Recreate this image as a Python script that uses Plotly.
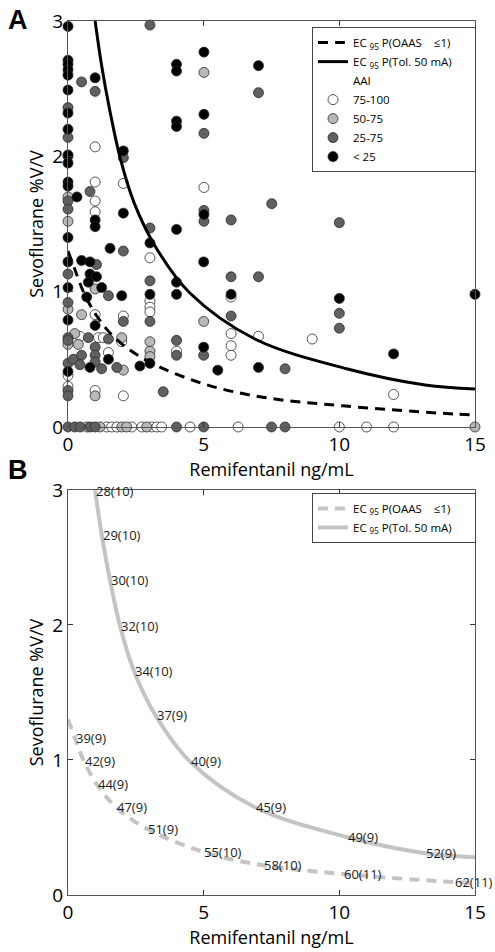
import plotly.graph_objects as go

# ---------------- data ----------------
# Panel A scatter points (Remifentanil ng/mL, Sevoflurane %V/V), grouped by AAI class
aai_75_100_x = [0, 0, 1.0, 1.0, 1.0, 1.0, 2.04, 1.0, 2.04, 0.44, 1.12, 1.3, 1.98, 1.49, 2.04, 1.0,
                3.02, 3.02, 3.02, 3.02, 5.01, 6.01, 6.01, 6.01, 6.01, 7.02, 9.0, 4.0, 12.0,
                1.43, 1.61, 1.8, 2.35, 2.72, 3.08, 3.27, 3.45, 4.5, 6.27, 10.0, 11.0, 12.0]
aai_75_100_y = [0.38, 0.30, 2.07, 1.81, 1.67, 1.59, 1.80, 0.83, 0.82, 0.67, 0.66, 0.66, 0.63, 0.55, 0.23, 0.27,
                1.25, 0.93, 0.885, 0.85, 1.77, 0.96, 0.69, 0.60, 0.53, 0.67, 0.65, 0.56, 0.24,
                0, 0, 0, 0, 0, 0, 0, 0, 0, 0, 0, 0, 0]

aai_50_75_x = [0, 0, 0, 0, 5.01, 1.0, 0.5, 0.25, 1.98, 0.38, 3.02, 3.02, 3.02, 2.04, 1.0, 5.0,
               0.7, 1.18, 1.98, 2.16, 2.9, 15.0]
aai_50_75_y = [1.70, 1.52, 0.87, 0.61, 2.62, 1.02, 0.83, 0.69, 0.66, 0.61, 0.63, 0.56, 0.52, 0.42, 0.23, 0.78,
               0, 0, 0, 0, 0, 0]

aai_25_75_x = [0, 0, 0, 0, 0, 0, 0, 0, 0, 0, 0, 0,
               0.5, 1.0, 0.81, 2.04, 3.02, 7.02, 5.01, 7.51, 5.01, 5.01, 6.01, 10.0, 3.02,
               2.04, 1.05, 1.49, 3.02, 6.01, 7.02, 2.04, 0.75, 1.49, 1.0, 0.2, 0.5, 1.0, 0.44, 1.0,
               3.02, 1.24, 1.8, 6.01, 10.0, 10.0, 4.0, 4.0, 5.0, 8.0, 3.51,
               0, 0.25, 0.45, 0.82, 1.0, 4.0, 5.0, 7.5, 8.0]
aai_25_75_y = [2.36, 2.14, 2.0, 1.67, 1.61, 1.13, 0.92, 0.66, 0.64, 0.47, 0.27, 0.23,
               2.55, 2.48, 1.74, 1.99, 2.97, 2.47, 2.17, 1.65, 1.60, 1.52, 1.53, 1.51, 1.47,
               1.30, 1.20, 0.97, 1.08, 1.11, 1.11, 0.78, 0.66, 0.65, 0.59, 0.50, 0.53, 0.53, 0.46, 0.48,
               0.78, 0.43, 0.44, 0.82, 0.84, 0.73, 0.64, 0.53, 0.53, 0.43, 0.26,
               0, 0, 0, 0, 0, 0, 0, 0, 0]

aai_lt25_x = [0, 0, 0, 0, 0, 0, 0, 0, 0, 0, 0, 0, 0, 0, 0, 0, 0,
              1.0, 4.0, 4.0, 5.01, 7.02, 4.0, 4.0, 5.01, 2.04, 0.33, 2.04, 1.0, 1.0, 5.01, 4.0,
              1.55, 3.02, 0.5, 0.81, 0.81, 1.05, 0.75, 1.24, 1.98, 0.69, 5.0, 4.0, 4.0, 3.02,
              6.01, 10.0, 1.0, 1.49, 0.81, 2.65, 3.02, 5.0, 5.52, 7.02, 15.0, 12.0]
aai_lt25_y = [2.96, 2.71, 2.68, 2.64, 2.60, 2.49, 2.32, 2.20, 2.01, 1.95, 1.81, 1.78, 1.40, 1.22, 1.03, 0.79, 0.41,
              2.58, 2.68, 2.63, 2.77, 2.67, 2.26, 2.22, 2.31, 2.04, 1.70, 1.58, 1.53, 1.48, 1.57, 1.46,
              1.32, 1.36, 1.23, 1.22, 1.13, 1.11, 1.07, 1.03, 0.97, 0.96, 1.22, 1.07, 0.98, 0.98,
              0.98, 0.95, 0.75, 0.50, 0.44, 0.45, 0.47, 0.59, 0.42, 0.44, 0.98, 0.54]

# EC95 curves
tol_x = [1.0, 1.24, 1.55, 1.92, 2.43, 3.23, 4.49, 6.89, 10.27, 13.16, 15.0]
tol_y = [3.0, 2.67, 2.33, 1.99, 1.66, 1.33, 0.99, 0.65, 0.43, 0.31, 0.28]
oaas_x = [0.0, 0.26, 0.59, 1.06, 1.77, 2.91, 4.98, 7.18, 10.13, 14.23, 15.0]
oaas_y = [1.30, 1.16, 0.99, 0.82, 0.65, 0.49, 0.32, 0.22, 0.156, 0.096, 0.09]

# Panel B labels, placed on the curves
tol_labels = ["28(10)", "29(10)", "30(10)", "32(10)", "34(10)", "37(9)", "40(9)", "45(9)", "49(9)", "52(9)"]
tol_lab_x = [1.0, 1.24, 1.55, 1.92, 2.43, 3.23, 4.49, 6.89, 10.27, 13.16]
tol_lab_y = [2.99, 2.67, 2.33, 1.99, 1.66, 1.33, 0.99, 0.65, 0.43, 0.31]
oaas_labels = ["39(9)", "42(9)", "44(9)", "47(9)", "51(9)", "55(10)", "58(10)", "60(11)", "62(11)"]
oaas_lab_x = [0.26, 0.59, 1.06, 1.77, 2.91, 4.98, 7.18, 10.13, 14.23]
oaas_lab_y = [1.16, 0.99, 0.82, 0.65, 0.49, 0.32, 0.22, 0.156, 0.096]

x_ticks = [0, 5, 10, 15]
y_ticks = [0, 1, 2, 3]

# ---------------- figure ----------------
FONT = "Open Sans"
fig = go.Figure()

groups = [
    ("75-100", aai_75_100_x, aai_75_100_y, "#ffffff"),
    ("50-75", aai_50_75_x, aai_50_75_y, "#b9b9b9"),
    ("25-75", aai_25_75_x, aai_25_75_y, "#606060"),
    ("< 25", aai_lt25_x, aai_lt25_y, "#000000"),
]

name_oaas = "EC <sub>95</sub> P(OAAS&nbsp;&nbsp;&nbsp;&nbsp;≤1)"
name_tol = "EC <sub>95</sub> P(Tol. 50 mA)&nbsp;&nbsp;&nbsp;&nbsp;&nbsp;&nbsp;"

# header entry "AAI"
fig.add_trace(go.Scatter(x=[None], y=[None], mode="markers", name="AAI",
                         marker=dict(size=1, color="rgba(0,0,0,0)"),
                         legend="legend", legendrank=3, xaxis="x", yaxis="y"))
for i, (nm, xs, ys, col) in enumerate(groups):
    fig.add_trace(go.Scatter(x=xs, y=ys, mode="markers", name=nm, cliponaxis=False,
                             marker=dict(size=10, color=col, line=dict(color="#2a2a2a", width=0.8)),
                             legend="legend", legendrank=4 + i, xaxis="x", yaxis="y"))

fig.add_trace(go.Scatter(x=oaas_x, y=oaas_y, mode="lines", name=name_oaas, line_shape="spline",
                         line=dict(color="black", width=3, dash="10px,7px"),
                         legend="legend", legendrank=1, xaxis="x", yaxis="y"))
fig.add_trace(go.Scatter(x=tol_x, y=tol_y, mode="lines", name=name_tol, line_shape="spline",
                         line=dict(color="black", width=3),
                         legend="legend", legendrank=2, xaxis="x", yaxis="y"))

# Panel B
fig.add_trace(go.Scatter(x=oaas_x, y=oaas_y, mode="lines", name=name_oaas, line_shape="spline",
                         line=dict(color="#c4c4c4", width=4, dash="10px,7px"),
                         legend="legend2", legendrank=1, xaxis="x2", yaxis="y2"))
fig.add_trace(go.Scatter(x=tol_x, y=tol_y, mode="lines", name=name_tol, line_shape="spline",
                         line=dict(color="#c4c4c4", width=4),
                         legend="legend2", legendrank=2, xaxis="x2", yaxis="y2"))

annotations = []
for labs, lx, ly in [(tol_labels, tol_lab_x, tol_lab_y), (oaas_labels, oaas_lab_x, oaas_lab_y)]:
    for t, xx, yy in zip(labs, lx, ly):
        annotations.append(dict(x=xx, y=yy, xref="x2", yref="y2", text=t, showarrow=False,
                                xanchor="left", yanchor="middle", xshift=-1,
                                font=dict(family=FONT, size=13, color="#1a1a1a")))

# panel letters
annotations.append(dict(x=-0.123, y=1.001, xref="paper", yref="paper", text="<b>A</b>",
                        showarrow=False, xanchor="center", yanchor="middle",
                        font=dict(family="Liberation Sans", size=27, color="black")))
annotations.append(dict(x=-0.123, y=0.486, xref="paper", yref="paper", text="<b>B</b>",
                        showarrow=False, xanchor="center", yanchor="middle",
                        font=dict(family="Liberation Sans", size=27, color="black")))

axis_common = dict(range=[0, 15], tickvals=x_ticks, ticks="inside", ticklen=5, tickcolor="#333",
                   mirror="ticks", showline=True, linecolor="#555", linewidth=1, showgrid=False,
                   zeroline=False, automargin=False, tickfont=dict(family=FONT, size=19, color="black"),
                   title=dict(text="Remifentanil ng/mL", font=dict(family=FONT, size=18, color="black"),
                              standoff=6))
yaxis_common = dict(range=[0, 3], tickvals=y_ticks, ticks="inside", ticklen=5, tickcolor="#333",
                    mirror="ticks", showline=True, linecolor="#555", linewidth=1, showgrid=False,
                    zeroline=False, automargin=False, tickfont=dict(family=FONT, size=19, color="black"),
                    title=dict(text="Sevoflurane %V/V", font=dict(family=FONT, size=18, color="black"),
                               standoff=4))

fig.update_layout(
    width=495, height=952,
    margin=dict(l=68, r=20, t=21, b=57, autoexpand=False),
    paper_bgcolor="white", plot_bgcolor="white",
    font=dict(family=FONT, color="black"),
    xaxis=dict(axis_common, domain=[0, 1], anchor="y"),
    yaxis=dict(yaxis_common, domain=[0.5355, 1.0], anchor="x"),
    xaxis2=dict(axis_common, domain=[0, 1], anchor="y2"),
    yaxis2=dict(yaxis_common, domain=[0.0, 0.4634], anchor="x2"),
    legend=dict(x=0.5995, y=0.993, xanchor="left", yanchor="top", bgcolor="white",
                bordercolor="#444", borderwidth=1, font=dict(family=FONT, size=11.5, color="black"),
                itemwidth=30, tracegroupgap=0),
    legend2=dict(x=0.5995, y=0.46, xanchor="left", yanchor="top", bgcolor="white",
                 bordercolor="#444", borderwidth=1, font=dict(family=FONT, size=11.5, color="black"),
                 itemwidth=30, tracegroupgap=0),
    annotations=annotations,
    showlegend=True,
)

fig.write_html("out.html", config={"displayModeBar": False},
               post_script="document.body.style.margin='0';document.body.style.overflow='hidden';")
